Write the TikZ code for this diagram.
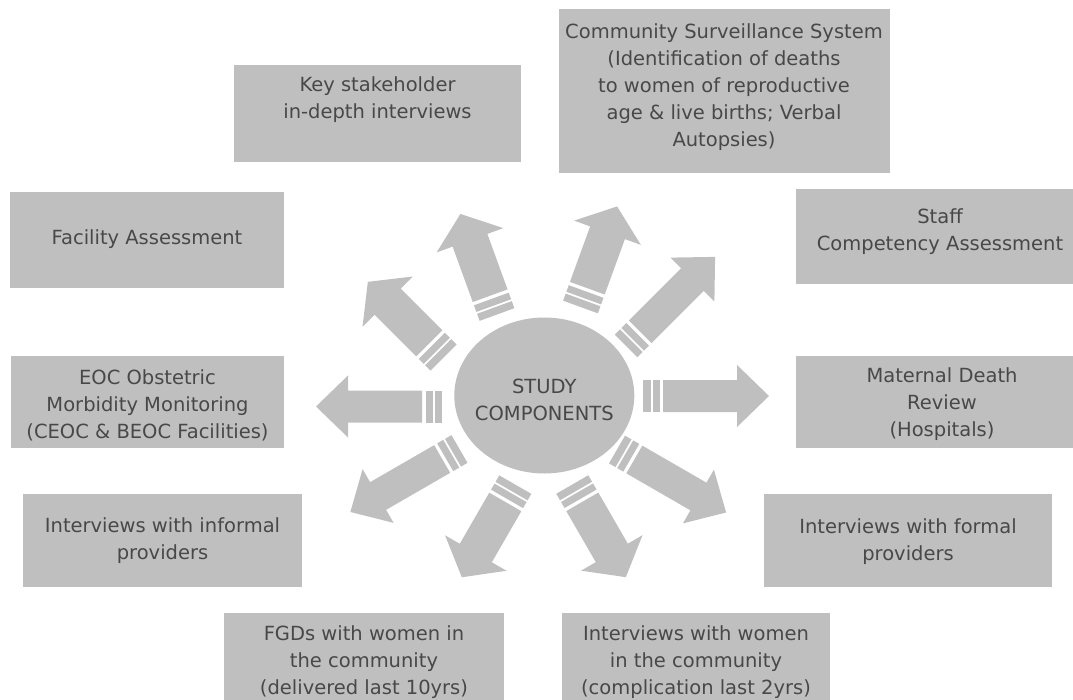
\documentclass[tikz,border=0pt]{standalone}
\usepackage{fontspec}
\setmainfont{DejaVu Sans}
\usetikzlibrary{shapes.geometric}
\definecolor{boxgray}{RGB}{191,191,191}
\definecolor{txtgray}{RGB}{72,72,72}
\tikzset{
  box/.style={fill=boxgray, draw=none, inner sep=0pt, anchor=north west},
  lbl/.style={text=txtgray, align=center, font=\fontsize{19.5}{27}\selectfont, inner sep=0pt},
  pics/bigarrow/.style n args={4}{code={
    \fill[boxgray] (0,-#2) rectangle (7.5,#2);
    \fill[boxgray] (9.5,-#2) rectangle (16.5,#2);
    \fill[boxgray] (20,-#2) -- ({#1-#4},-#2) -- ({#1-#4},-#3) -- (#1,0)
      -- ({#1-#4},#3) -- ({#1-#4},#2) -- (20,#2) -- cycle;
  }}
}
\begin{document}
\begin{tikzpicture}[x=1pt,y=-1pt]
\useasboundingbox (0,0) rectangle (1073,700);
\clip (0,0) rectangle (1073,700);

% boxes
\node[box, minimum width=287pt, minimum height=97pt] (key) at (234,65) {};
\node[box, minimum width=331pt, minimum height=164pt] (comm) at (559,9) {};
\node[box, minimum width=274pt, minimum height=96pt] (fac) at (10,192) {};
\node[box, minimum width=292pt, minimum height=95pt] (staff) at (796,189) {};
\node[box, minimum width=273pt, minimum height=92pt] (eoc) at (11,356) {};
\node[box, minimum width=292pt, minimum height=92pt] (mdr) at (796,356) {};
\node[box, minimum width=279pt, minimum height=93pt] (inf) at (23,494) {};
\node[box, minimum width=288pt, minimum height=93pt] (form) at (764,494) {};
\node[box, minimum width=280pt, minimum height=97pt] (fgd) at (224,613) {};
\node[box, minimum width=268pt, minimum height=97pt] (wom) at (562,613) {};

% texts
\node[lbl] (keyT) at (377.5,100) {Key stakeholder\\in-depth interviews};
\node[lbl] (commT) at (724,87.5) {Community Surveillance System\\(Identification of deaths\\to women of reproductive\\age \& live births; Verbal\\Autopsies)};
\node[lbl] (facT) at (147,239) {Facility Assessment};
\node[lbl] (staffT) at (940,231.5) {Staff\\Competency Assessment};
\node[lbl] (eocT) at (147.5,405) {EOC Obstetric\\Morbidity Monitoring\\(CEOC \& BEOC Facilities)};
\node[lbl] (mdrT) at (942,404) {Maternal Death\\Review\\(Hospitals)};
\node[lbl] (infT) at (162.5,541) {Interviews with informal\\providers};
\node[lbl] (formT) at (908,542) {Interviews with formal\\providers};
\node[lbl] (fgdT) at (364,662) {FGDs with women in\\the community\\(delivered last 10yrs)};
\node[lbl] (womT) at (696,662) {Interviews with women\\in the community\\(complication last 2yrs)};

% centre
\node[ellipse, fill=boxgray, inner sep=0pt, minimum width=180pt, minimum height=156pt] (comp) at (544.3,395.5) {};
\node[lbl] (compT) at (544.3,400) {STUDY\\COMPONENTS};

% arrows
\pic[rotate=0]   at (643,396)     {bigarrow={126}{16}{31}{32}};
\pic[rotate=180] at (442,406.5)   {bigarrow={126}{16}{31}{32}};
\pic[rotate=45]  at (626,346)     {bigarrow={126}{16}{31}{32}};
\pic[rotate=210] at (459.5,449)   {bigarrow={126}{16}{31}{32}};
\pic[rotate=-30] at (617,449.5)   {bigarrow={126}{16}{31}{32}};
\pic[rotate=135] at (443.5,357.5) {bigarrow={107}{18.5}{35.5}{28}};
\pic[rotate=110] at (497,314.5)   {bigarrow={107}{18.5}{35.5}{28}};
\pic[rotate=70]  at (580.5,307)   {bigarrow={107}{18.5}{35.5}{28}};
\pic[rotate=240] at (515.3,484.6) {bigarrow={107}{18.5}{35.5}{28}};
\pic[rotate=-60] at (572.3,484.5) {bigarrow={107}{18.5}{35.5}{28}};
\end{tikzpicture}
\end{document}
